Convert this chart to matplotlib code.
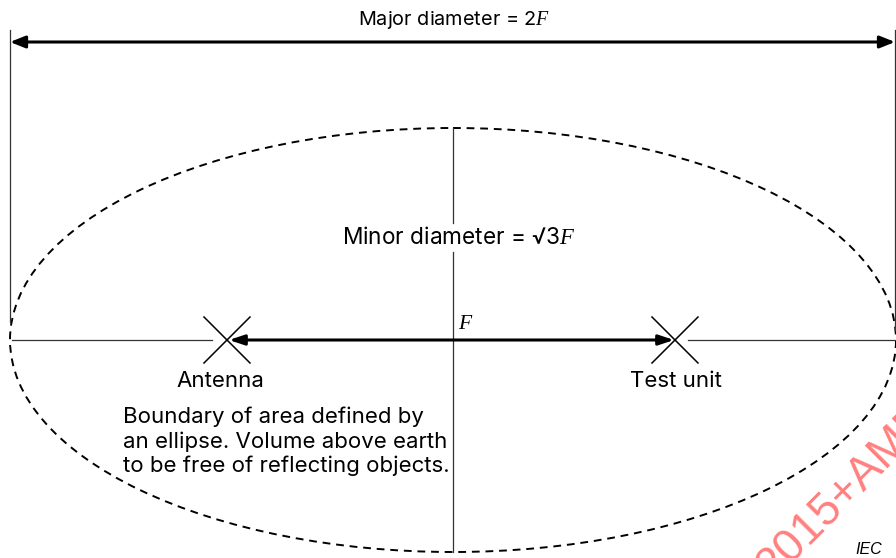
import matplotlib
matplotlib.use("Agg")
import matplotlib.pyplot as plt
from matplotlib.patches import Ellipse

plt.rcParams['font.family'] = ['Inter', 'DejaVu Sans']
plt.rcParams['mathtext.fontset'] = 'custom'
plt.rcParams['mathtext.it'] = 'Liberation Serif:italic'
plt.rcParams['mathtext.rm'] = 'Liberation Serif'

# geometry of the sketch (drawing units = pixels of the original figure)
ellipse_center = [453, 340]
ellipse_size = [886, 424]          # width, height
focus_x = [227, 675]               # antenna, test unit
major_arrow_y = 42
major_ends = [10, 895]
minor_ends = [128, 552]

labels = ["Antenna", "Test unit"]
label_x = [220, 676]
major_label = r"Major diameter = 2$F$"
minor_label = r"Minor diameter = √3$F$"
note_lines = ["Boundary of area defined by",
              "an ellipse. Volume above earth",
              "to be free of reflecting objects."]

fig = plt.figure(figsize=(8.96, 5.58), dpi=100)
ax = fig.add_axes([0, 0, 1, 1])
ax.set_xlim(0, 896)
ax.set_ylim(558, 0)
ax.axis('off')

cx, cy = ellipse_center
w, h = ellipse_size
thin = dict(color='#333333', lw=0.9)

# dashed ellipse boundary
ax.add_patch(Ellipse((cx, cy), w, h, fill=False, ec='black', lw=1.4,
                     ls=(0, (4, 3))))

# extension lines for the major diameter
ax.plot([major_ends[0], major_ends[0]], [30, 322], **thin)
ax.plot([major_ends[1], major_ends[1]], [30, 330], **thin)

# major diameter arrow
ax.annotate('', xy=(major_ends[1], major_arrow_y), xytext=(major_ends[0], major_arrow_y),
            arrowprops=dict(arrowstyle='<|-|>,head_length=0.45,head_width=0.18',
                            lw=2.2, color='black', shrinkA=0, shrinkB=0,
                            mutation_scale=20))
ax.text(454, 20, major_label, ha='center', va='center', fontsize=14.3)

# minor axis line (broken where the label sits)
ax.plot([cx, cx], [minor_ends[0], 223], **thin)
ax.plot([cx, cx], [252, minor_ends[1]], **thin)
ax.text(459, 238, minor_label, ha='center', va='center', fontsize=16.3)

# thin centre line beyond the foci
ax.plot([12, 212], [cy, cy], **thin)
ax.plot([688, major_ends[1]], [cy, cy], **thin)

# arrow between the foci
ax.annotate('', xy=(focus_x[1] - 1, cy), xytext=(focus_x[0] + 2, cy),
            arrowprops=dict(arrowstyle='<|-|>,head_length=0.45,head_width=0.15',
                            lw=2.2, color='black', shrinkA=0, shrinkB=0,
                            mutation_scale=20))
ax.text(466, 323, r"$F$", ha='center', va='center', fontsize=15.5)

# crosses at antenna and test unit
for fx, lx, lab in zip(focus_x, label_x, labels):
    d = 23
    ax.plot([fx - d, fx + d], [cy - d, cy + d], color='black', lw=1.1)
    ax.plot([fx - d, fx + d], [cy + d, cy - d], color='black', lw=1.1)
    ax.text(lx, 381, lab, ha='center', va='center', fontsize=16)

for i, line in enumerate(note_lines):
    ax.text(123, 417 + i * 24.5, line, ha='left', va='center', fontsize=16)

ax.text(869, 549, "IEC", ha='center', va='center', fontsize=11.5,
        style='italic', family='Liberation Sans')

# watermark, running off the page as in the original
ax.text(773, 581, "2015+AMD1", rotation=45, rotation_mode='anchor',
        ha='left', va='baseline', fontsize=33, color='#ff8080',
        family='Liberation Sans', clip_on=True)

fig.savefig("out.png", dpi=100)
